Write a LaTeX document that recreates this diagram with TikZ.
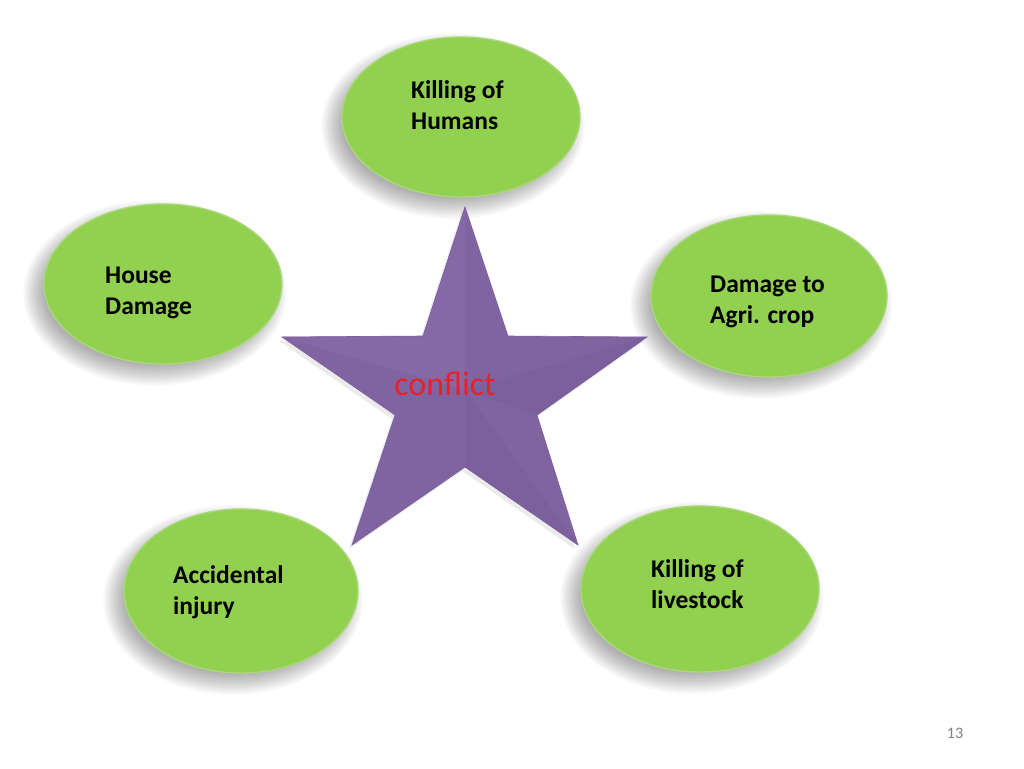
\documentclass[tikz,border=0pt]{standalone}
\usepackage{fontspec}
\setmainfont{Carlito}
\usetikzlibrary{shapes.geometric}
\definecolor{leaf}{HTML}{92D050}
\definecolor{leafedge}{HTML}{A9D77A}
\definecolor{plum}{HTML}{8064A2}
\definecolor{plumlight}{HTML}{8469A6}
\definecolor{plumdark}{HTML}{7C609E}
\definecolor{conflictred}{HTML}{E8202A}
\tikzset{
  blob/.style={ellipse, fill=leaf, draw=leafedge, line width=1.4pt,
    minimum width=238pt, minimum height=160pt, inner sep=0pt},
  blobtext/.style={anchor=west, align=left, inner sep=0pt,
    font=\bfseries\fontsize{25.5}{31}\selectfont, text=black},
}
\newcommand{\blobshadow}[4]{%
  \foreach \k in {0,...,13}{
    \fill[black, opacity=0.022]
      (#1-8, #2+9) ellipse ({(#3/2-8+\k*1.6)*1pt} and {(#4/2-8+\k*1.6)*1pt});
  }%
}
\begin{document}
\begin{tikzpicture}[x=1pt, y=-1pt]
\useasboundingbox (0,0) rectangle (1024,768);
\fill[white] (0,0) rectangle (1024,768);

% shadows
\blobshadow{461}{117}{238}{160}
\blobshadow{163}{284}{238}{160}
\blobshadow{769}{296}{236}{162}
\blobshadow{241}{591}{234}{164}
\blobshadow{700}{589}{238}{166}

% ellipses
\node[blob] (humans) at (461,117) {};
\node[blob] (house) at (163,284) {};
\node[blob, minimum width=236pt, minimum height=162pt] (agri) at (769,296) {};
\node[blob, minimum width=234pt, minimum height=164pt] (injury) at (241,591) {};
\node[blob, minimum width=238pt, minimum height=166pt] (livestock) at (700,589) {};

% star
\coordinate (tt) at (465,207);
\coordinate (tr) at (647,337);
\coordinate (tbr) at (578,545);
\coordinate (tbl) at (352,545);
\coordinate (tl) at (282,337);
\coordinate (iur) at (508,336);
\coordinate (ilr) at (537,415);
\coordinate (ib) at (465,467);
\coordinate (ill) at (395,415);
\coordinate (iul) at (423,336);
\coordinate (sc) at (465,390);
\fill[black, opacity=0.08] ([shift={(-3,4)}]tt) -- ([shift={(-3,4)}]iur) -- ([shift={(-3,4)}]tr) -- ([shift={(-3,4)}]ilr) -- ([shift={(-3,4)}]tbr) -- ([shift={(-3,4)}]ib) -- ([shift={(-3,4)}]tbl) -- ([shift={(-3,4)}]ill) -- ([shift={(-3,4)}]tl) -- ([shift={(-3,4)}]iul) -- cycle;
\fill[plum] (tt) -- (iur) -- (tr) -- (ilr) -- (tbr) -- (ib) -- (tbl) -- (ill) -- (tl) -- (iul) -- cycle;
% subtle bevel faces
\fill[plumlight] (sc) -- (iul) -- (tt) -- cycle;
\fill[plumlight] (sc) -- (tl) -- (iul) -- cycle;
\fill[plumdark] (sc) -- (tbr) -- (ib) -- cycle;
\fill[plumdark] (sc) -- (tr) -- (ilr) -- cycle;
\draw[plumdark, line width=0.6pt] (tt) -- (iur) -- (tr) -- (ilr) -- (tbr) -- (ib) -- (tbl) -- (ill) -- (tl) -- (iul) -- cycle;
\node[text=conflictred, font=\fontsize{34}{38}\selectfont, inner sep=0pt] (conflict) at (445,384) {conflict};

% labels
\node[blobtext] (t1) at (411,105) {Killing of\\Humans};
\node[blobtext] (t2) at (105,293) {House\\Damage};
\node[blobtext] (t3) at (710,302) {Damage to\\Agri. crop};
\node[blobtext] (t4) at (173,592) {Accidental\\injury};
\node[blobtext] (t5) at (651,584) {Killing of\\livestock};

\node[text=gray, font=\fontsize{16}{18}\selectfont, inner sep=0pt] (pg) at (955,733) {13};
\end{tikzpicture}
\end{document}
